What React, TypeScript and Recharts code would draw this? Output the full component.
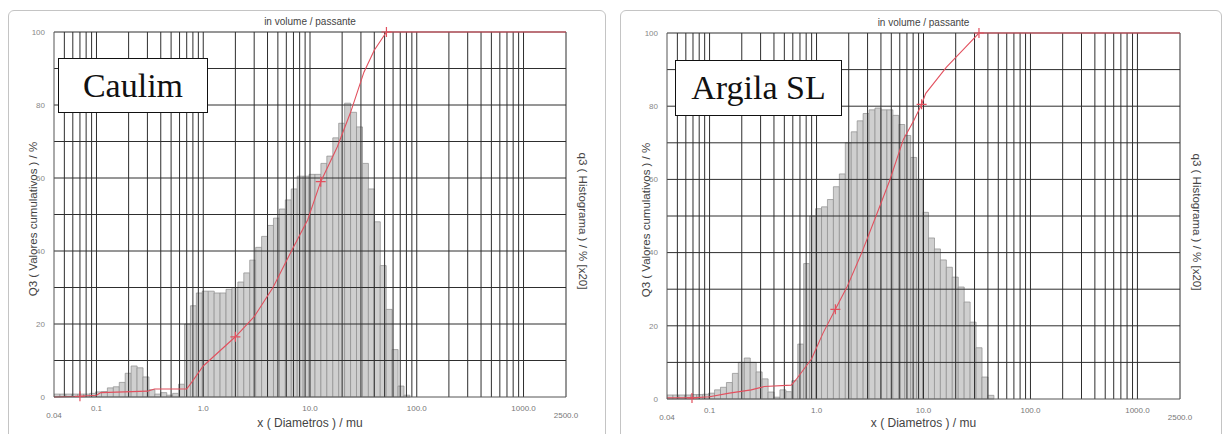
import React from 'react';
import { ComposedChart, Bar, Line, XAxis, YAxis, ReferenceLine } from 'recharts';

// histogram class centres (mu), shared by both samples
const binD = [
  0.04264, 0.04846, 0.05507, 0.06259, 0.07113, 0.08084, 0.09187, 0.1044, 0.1187, 0.1348,
  0.1532, 0.1742, 0.1979, 0.2249, 0.2556, 0.2905, 0.3302, 0.3752, 0.4264, 0.4846,
  0.5507, 0.6259, 0.7113, 0.8084, 0.9187, 1.044, 1.187, 1.348, 1.532, 1.742,
  1.979, 2.249, 2.556, 2.905, 3.302, 3.752, 4.264, 4.846, 5.507, 6.259,
  7.113, 8.084, 9.187, 10.44, 11.87, 13.48, 15.32, 17.42, 19.79, 22.49,
  25.56, 29.05, 33.02, 37.52, 42.64, 48.46, 55.07, 62.59, 71.13, 80.84,
];

// q3 histogram (read on the 0-100 grid)
const caulimHist = [
  0.8, 0.8, 0.8, 0.8, 0.8, 0.8, 1.0, 1.4, 1.5, 2.5,
  2.8, 4, 6.5, 8.5, 8, 5.5, 2, 0.8, 1.2, 0.5,
  1, 3.5, 20, 25, 28.5, 29, 29, 28.5, 28.5, 29.5,
  30, 31.5, 34, 37.5, 41, 44, 47, 49, 51.5, 54,
  57, 60.5, 60.5, 61, 61, 64, 66, 71, 75, 80.5,
  78, 74, 64, 57, 48, 36, 24, 13, 3, 0.5,
];
const argilaHist = [
  1.1, 1.1, 1.1, 1.1, 1.2, 1.2, 1.3, 1.6, 2.5, 3.2,
  4.5, 7, 10, 11.2, 10, 7.4, 5.5, 1.9, 0.5, 2.5,
  2, 5, 15, 37, 50, 52, 52.5, 54.5, 58, 61.5,
  70, 73, 76, 78, 79, 79.5, 79, 79, 77.5, 75,
  72, 66, 60, 51, 44, 41, 38, 36, 33.3, 30.6,
  26.5, 21, 14, 6, 1, 0, 0, 0, 0, 0,
];

// Q3 cumulative curves
const caulimCumD = [0.04, 0.07, 0.1, 0.11, 0.3, 0.35, 0.7, 0.8, 1.0, 2.0, 3.0, 4.5, 6.7, 9.5, 12.6, 18, 24, 32, 40, 52, 2500];
const caulimCumQ = [0, 0.2, 0.5, 1.2, 1.6, 2.2, 2.2, 4.5, 8.5, 16.5, 22, 30, 40, 48.5, 59, 68.5, 78, 89, 95, 100, 100];
const caulimMarks = [0.07, 2.0, 12.6, 52];

const argilaCumD = [0.04, 0.0685, 0.1, 0.153, 0.245, 0.325, 0.58, 0.64, 0.9, 1.15, 1.5, 1.92, 2.65, 3.6, 4.8, 6.5, 8.1, 9.6, 10.5, 16.4, 24.5, 33, 2500];
const argilaCumQ = [0.3, 0.3, 0.6, 1.6, 2.5, 3.4, 3.8, 5.2, 11, 18, 24.5, 30.5, 40, 50, 59.5, 71, 76, 80.5, 83.5, 90.7, 96, 100, 100];
const argilaMarks = [0.0685, 1.5, 9.6, 33];

const xTicks = [0.04, 0.1, 1, 10, 100, 1000, 2500];
const xTickLabels = ['0.04', '0.1', '1.0', '10.0', '100.0', '1000.0', '2500.0'];
const yTicks = [0, 10, 20, 30, 40, 50, 60, 70, 80, 90, 100];
const gridX = [
  0.05, 0.06, 0.07, 0.08, 0.09, 0.1, 0.2, 0.3, 0.4, 0.5, 0.6, 0.7, 0.8, 0.9,
  1, 2, 3, 4, 5, 6, 7, 8, 9, 10, 20, 30, 40, 50, 60, 70, 80, 90,
  100, 200, 300, 400, 500, 600, 700, 800, 900, 1000, 2500,
];
const gridY = [10, 20, 30, 40, 50, 60, 70, 80, 90, 100];

const RED = '#e2505e';
const GRID = '#2e2e2e';
const SANS = '"Liberation Sans", Arial, sans-serif';

const XTick = (props: any) => {
  const { x, y, payload, index } = props;
  const i = xTicks.indexOf(payload.value);
  const end = index === 0 || index === xTicks.length - 1;
  return (
    <text x={x} y={y + (end ? 13 : 6)} textAnchor="middle" fontSize={8} fill="#777" fontFamily={SANS}>
      {xTickLabels[i]}
    </text>
  );
};

const Cross = (props: any) => {
  const { cx, cy, payload, index } = props;
  if (!payload || !payload.m || cx == null) return <g key={index} />;
  const s = 5;
  return (
    <path
      key={index}
      d={`M${cx - s},${cy}L${cx + s},${cy}M${cx},${cy - s}L${cx},${cy + s}`}
      stroke={RED}
      strokeWidth={1.2}
      fill="none"
    />
  );
};

type PanelProps = {
  left: number;
  width: number;
  plot: { l: number; r: number; t: number; b: number };
  name: string;
  box: { x: number; y: number; w: number; h: number };
  hist: number[];
  cumD: number[];
  cumQ: number[];
  marks: number[];
};

const Panel = ({ left, width, plot, name, box, hist, cumD, cumQ, marks }: PanelProps) => {
  const histData = binD.map((d, i) => ({ d, q: hist[i] }));
  const cumData = cumD.map((d, i) => ({ d, Q: cumQ[i], m: marks.includes(d) }));
  const cx = (plot.l + plot.r) / 2;
  const cy = (plot.t + plot.b) / 2;
  const xAxisH = 20;
  return (
    <div style={{ position: 'absolute', left, top: 0, width, height: 434 }}>
      <div
        style={{
          position: 'absolute', left: 8, top: 10, width: width - 12, height: 440,
          border: '1px solid #c4c4c4', borderRadius: 6, boxSizing: 'border-box',
        }}
      />
      <div style={{ position: 'absolute', left: 0, top: 0 }}>
        <ComposedChart
          width={width}
          height={434}
          data={histData}
          margin={{ top: plot.t, right: width - plot.r, bottom: 434 - plot.b - xAxisH, left: plot.l - 24 }}
          barCategoryGap={0}
          barGap={0}
        >
          <XAxis
            dataKey="d"
            type="number"
            scale="log"
            domain={[0.04, 2500]}
            allowDataOverflow
            ticks={xTicks}
            interval={0}
            height={xAxisH}
            tickLine={false}
            axisLine={{ stroke: '#555' }}
            tick={<XTick />}
          />
          <XAxis xAxisId="cum" dataKey="d" type="number" scale="log" domain={[0.04, 2500]} allowDataOverflow hide />
          <YAxis
            type="number"
            domain={[0, 100]}
            ticks={yTicks}
            interval={0}
            width={24}
            tickLine={false}
            tickMargin={3}
            axisLine={{ stroke: '#555' }}
            tick={{ fontSize: 8, fill: '#888', fontFamily: SANS }}
            tickFormatter={(v: number) => (v % 20 === 0 ? String(v) : '')}
          />
          <Bar dataKey="q" fill="#cfcfcf" stroke="#8d8d8d" strokeWidth={0.7} isAnimationActive={false} />
          {gridX.map((v) => (
            <ReferenceLine key={'x' + v} x={v} stroke={GRID} strokeWidth={1} zIndex={350} />
          ))}
          {gridY.map((v) => (
            <ReferenceLine key={'y' + v} y={v} stroke={GRID} strokeWidth={1} zIndex={350} />
          ))}
          <Line
            xAxisId="cum"
            data={cumData}
            dataKey="Q"
            type="linear"
            stroke={RED}
            strokeWidth={1.1}
            dot={Cross}
            activeDot={false}
            isAnimationActive={false}
          />
        </ComposedChart>
      </div>
      <div style={{ position: 'absolute', left: cx, top: plot.t - 11, transform: 'translate(-50%,-50%)', fontFamily: SANS, fontSize: 10, color: '#444', whiteSpace: 'nowrap' }}>
        in volume / passante
      </div>
      <div style={{ position: 'absolute', left: cx, top: 423, transform: 'translate(-50%,-50%)', fontFamily: SANS, fontSize: 12, color: '#444', whiteSpace: 'nowrap' }}>
        x ( Diametros ) / mu
      </div>
      <div style={{ position: 'absolute', left: plot.l - 21, top: cy + 4, transform: 'translate(-50%,-50%) rotate(-90deg)', fontFamily: SANS, fontSize: 11.5, color: '#444', whiteSpace: 'nowrap' }}>
        Q3 ( Valores cumulativos ) / %
      </div>
      <div style={{ position: 'absolute', left: plot.r + 17, top: cy + 6, transform: 'translate(-50%,-50%) rotate(90deg)', fontFamily: SANS, fontSize: 11.5, color: '#444', whiteSpace: 'nowrap' }}>
        q3 ( Histograma ) / % [x20]
      </div>
      <div
        style={{
          position: 'absolute', left: box.x, top: box.y, width: box.w, height: box.h,
          border: '1.5px solid #111', background: '#fff', boxSizing: 'border-box',
          display: 'flex', alignItems: 'center', justifyContent: 'center',
          fontFamily: '"Liberation Serif", "Times New Roman", serif', fontSize: 34, color: '#111',
        }}
      >
        {name}
      </div>
    </div>
  );
};

export default function App() {
  return (
    <div style={{ position: 'fixed', left: 0, top: 0, width: 1226, height: 434, background: '#fff', overflow: 'hidden' }}>
      <Panel
        left={0}
        width={610}
        plot={{ l: 54, r: 566, t: 32, b: 397 }}
        name="Caulim"
        box={{ x: 58, y: 58, w: 150, h: 55 }}
        hist={caulimHist}
        cumD={caulimCumD}
        cumQ={caulimCumQ}
        marks={caulimMarks}
      />
      <Panel
        left={612}
        width={614}
        plot={{ l: 55, r: 568, t: 33, b: 399 }}
        name="Argila SL"
        box={{ x: 63, y: 60, w: 167, h: 56 }}
        hist={argilaHist}
        cumD={argilaCumD}
        cumQ={argilaCumQ}
        marks={argilaMarks}
      />
    </div>
  );
}
